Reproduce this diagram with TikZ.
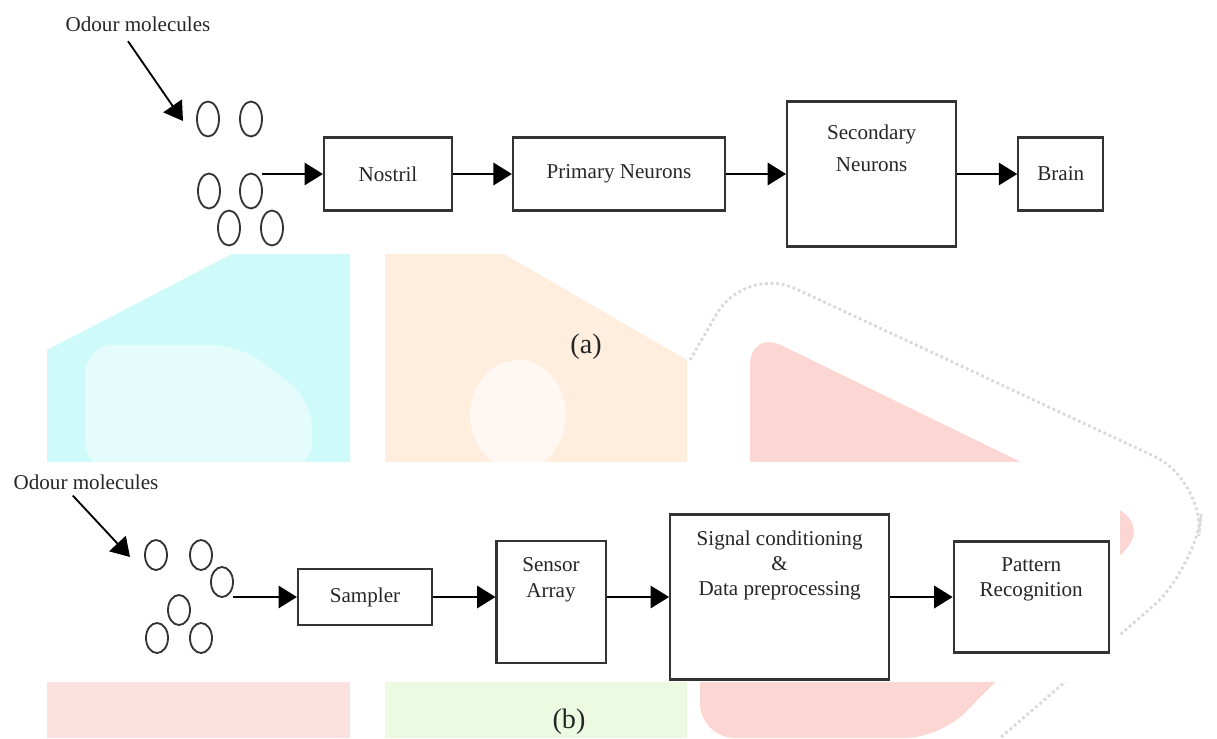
\documentclass[tikz,border=0pt]{standalone}
\usepackage{fontspec}
\setmainfont{Liberation Serif}
\usepackage{tikz}
\usetikzlibrary{arrows.meta,positioning,shapes.geometric}
\definecolor{wmcyan}{RGB}{206,250,250}
\definecolor{wmorange}{RGB}{255,237,222}
\definecolor{wmred}{RGB}{251,214,210}
\definecolor{wmpink}{RGB}{251,224,224}
\definecolor{wmgreen}{RGB}{236,250,226}
\tikzset{
    %Define standard arrow tip
    >={Triangle[length=0.46cm,width=0.56cm]},
    %Define style for boxes
    boks/.style={
           rectangle,
           draw=black!80, line width=1.5pt,
           inner sep=0pt,
           font=\fontsize{15}{18}\selectfont,
           text=black!85,
           text centered},
    %Define style for plain text
    txt/.style={
           font=\fontsize{15}{18}\selectfont,
           text=black!85,
           align=center},
    toptext/.style={txt, inner sep=0.333em},
    %Define style for the molecules
    mol/.style={
           ellipse,
           draw=black!80, line width=1.3pt,
           minimum width=0.55cm,
           inner sep=0pt},
    % Define arrow style
    pil/.style={
           ->,
           line width=1.3pt}
}
\begin{document}
\begin{tikzpicture}[x=0.025cm,y=-0.025cm]
\useasboundingbox (0,0) rectangle (1217,738);

 %watermark
\fill[wmcyan] (47,350) -- (232,254) -- (350,254) -- (350,470) -- (47,470) -- cycle;
\fill[white, opacity=.45, rounded corners=20] (85,345) -- (240,345) -- (312,400) -- (312,470) -- (85,470) -- cycle;
\fill[wmorange] (385,254) -- (504,254) -- (687,360) -- (687,470) -- (385,470) -- cycle;
\fill[white, opacity=.6] (518,415) ellipse (48 and 55);
\fill[wmred, rounded corners=25] (750,330) -- (1150,525) -- (940,738) -- (700,738) -- (700,600) -- (750,600) -- cycle;
\draw[black!15, line width=2pt, dotted, rounded corners=40] (690,360) -- (745,265) -- (1205,480) -- (1195,570) -- (1000,738);
\fill[wmpink] (47,682) rectangle (350,738);
\fill[wmgreen] (385,682) rectangle (687,738);
\fill[white] (0,462) rectangle (1120,682);

 %molecules
\foreach \x/\y [count=\i] in {208/119,251/119,209/191,251/191,229/228,272/228}
  \node[mol, minimum height=0.875cm] (ma\i) at (\x,\y) {};
\foreach \x/\y [count=\i] in {156/555,201/555,222/582,179/610,157/638,201/638}
  \node[mol, minimum height=0.75cm] (mb\i) at (\x,\y) {};

 %nodes (a)
\node[txt] (odour a) at (138,24) {Odour molecules};
\coordinate (tip a) at (183,121);
\coordinate (in a) at (262,174);
\node[boks, minimum width=3.2cm, minimum height=1.825cm] (nostril) at (388,174) {Nostril};
\node[boks, minimum width=5.3cm, minimum height=1.825cm, right=1.47cm of nostril] (primary) {Primary Neurons};
\node[boks, minimum width=4.225cm, minimum height=3.625cm, right=1.5cm of primary,
      label={[toptext, below=0.48cm]north:Secondary\\[5pt]Neurons}] (secondary) {};
\node[boks, minimum width=2.125cm, minimum height=1.825cm, right=1.5cm of secondary] (brain) {Brain};
\node[txt, font=\fontsize{20}{24}\selectfont] (cap a) at (586,347) {(a)};

 %nodes (b)
\node[txt] (odour b) at (86,482) {Odour molecules};
\coordinate (tip b) at (130,557);
\coordinate (in b) at (233,597);
\node[boks, minimum width=3.35cm, minimum height=1.4cm] (sampler) at (365,597) {Sampler};
\node[boks, minimum width=2.725cm, minimum height=3.05cm, right=1.56cm of sampler, yshift=-0.13cm,
      label={[toptext, below=0.32cm]north:Sensor\\Array}] (sensor) {};
\node[boks, minimum width=5.475cm, minimum height=4.125cm, right=1.56cm of sensor, yshift=0.13cm,
      label={[toptext, below=0.3cm]north:Signal conditioning\\\&\\Data preprocessing}] (signal) {};
\node[boks, minimum width=3.875cm, minimum height=2.775cm, right=1.56cm of signal,
      label={[toptext, below=0.3cm]north:Pattern\\Recognition}] (pattern) {};
\node[txt, font=\fontsize{20}{24}\selectfont] (cap b) at (569,722) {(b)};

 %edges
\draw[pil] ([xshift=-0.25cm,yshift=-0.12cm]odour a.south) -- (tip a);
\draw[pil] (in a) -- (nostril);
\draw[pil] (nostril) -- (primary);
\draw[pil] (primary) -- (secondary);
\draw[pil] (secondary) -- (brain);

\draw[pil] ([xshift=-0.33cm,yshift=-0.03cm]odour b.south) -- (tip b);
\draw[pil] (in b) -- (sampler);
\draw[pil] (sampler) -- (sampler -| sensor.west);
\draw[pil] (sensor.east |- signal) -- (signal);
\draw[pil] (signal) -- (pattern);

\end{tikzpicture}
\end{document}
